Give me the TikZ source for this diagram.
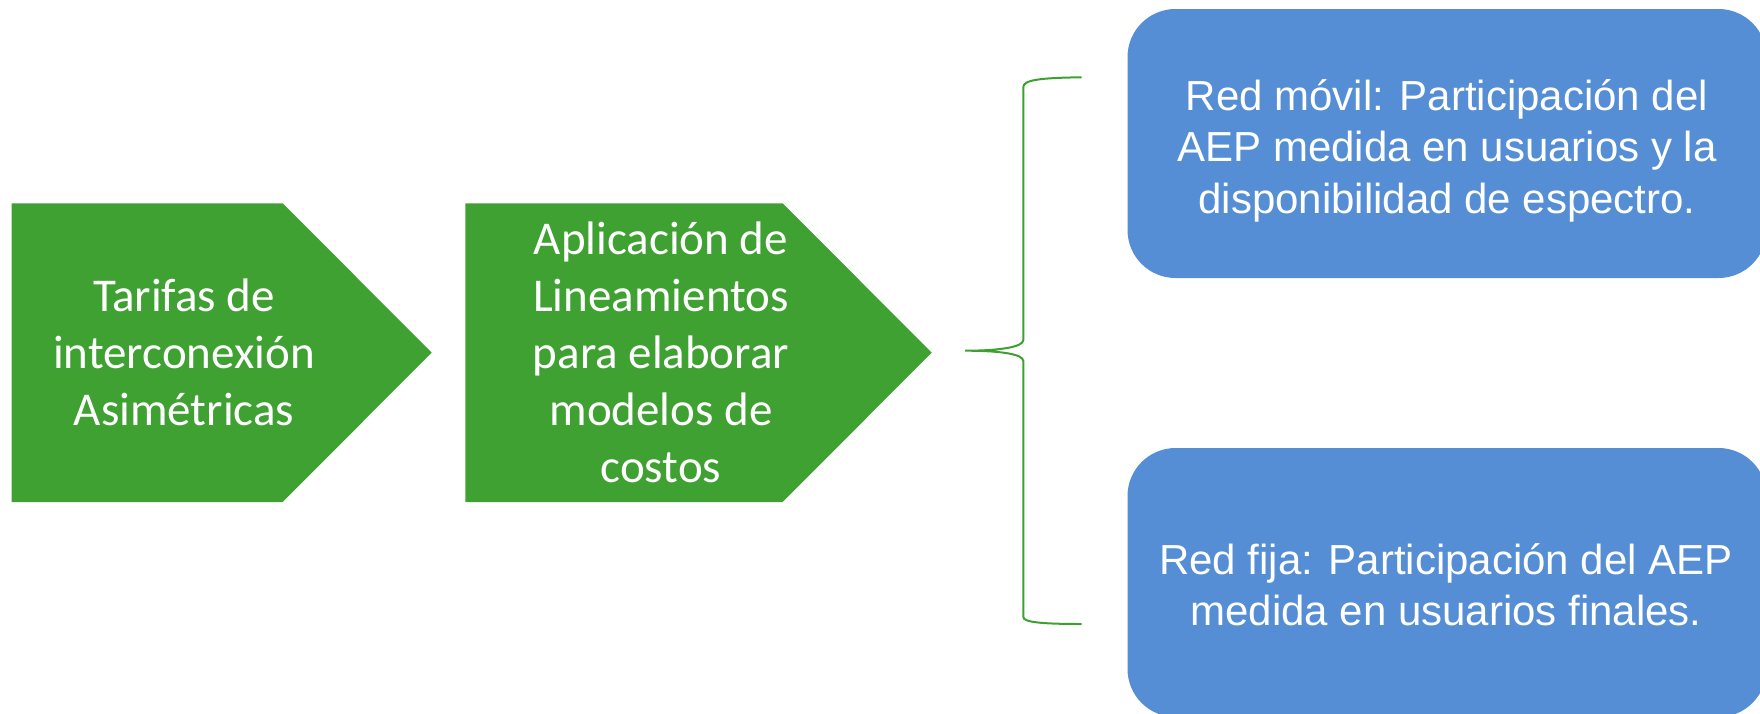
\documentclass[tikz,border=0pt]{standalone}
\usepackage{fontspec}
\setmainfont{Liberation Sans}
\newfontfamily\chevfont{Carlito}
\definecolor{chevgreen}{RGB}{64,161,51}
\definecolor{boxblue}{RGB}{85,142,213}
\definecolor{bracegreen}{RGB}{63,160,50}
\begin{document}
\begin{tikzpicture}[x=1pt,y=-1pt,
  chev/.style={fill=chevgreen, draw=none},
  chevtext/.style={text=white, align=center, font=\chevfont\fontsize{47}{57}\selectfont, inner sep=0pt},
  bluebox/.style={fill=boxblue, draw=none, rounded corners=48pt, minimum width=639pt, minimum height=269pt, inner sep=0pt},
  bluetext/.style={text=white, align=center, font=\fontsize{42}{51.5}\selectfont, inner sep=0pt},
  bracestyle/.style={draw=bracegreen, line width=2pt}]
\useasboundingbox (0,0) rectangle (1760,713);
\clip (0,0) rectangle (1760,713);
% chevrons
\fill[chev] (11.7,203.3) -- (282.7,203.3) -- (431.7,352.6) -- (282.7,502) -- (11.7,502) -- cycle;
\fill[chev] (465.3,203.3) -- (782.7,203.3) -- (931.7,352.6) -- (782.7,502) -- (465.3,502) -- cycle;
\node[chevtext] (t1) at (184,352.5) {Tarifas de\\interconexión\\Asimétricas};
\node[chevtext] (t2) at (661,352.5) {Aplicación de\\Lineamientos\\para elaborar\\modelos de\\costos};
% blue boxes
\node[bluebox] (b1) at (1447,143.5) {};
\node[bluebox] (b2) at (1447,582.5) {};
\node[bluetext] (r1) at (1447,150.5) {Red móvil: Participación del\\AEP medida en usuarios y la\\disponibilidad de espectro.};
\node[bluetext] (r2) at (1446,584.5) {Red fija: Participación del AEP\\medida en usuarios finales.};
% brace
\coordinate (btop) at (1081.7,77.3);
\coordinate (btip) at (965,350.7);
\coordinate (bbot) at (1081.7,624);
\draw[bracestyle] (btop) .. controls (1040,77.8) and (1023.3,80) .. (1023.3,87) -- (1023.3,340)
  .. controls (1023.3,347) and (1000,350.7) .. (btip)
  .. controls (1000,350.7) and (1023.3,354) .. (1023.3,361) -- (1023.3,617)
  .. controls (1023.3,622) and (1040,624) .. (bbot);
\end{tikzpicture}
\end{document}
